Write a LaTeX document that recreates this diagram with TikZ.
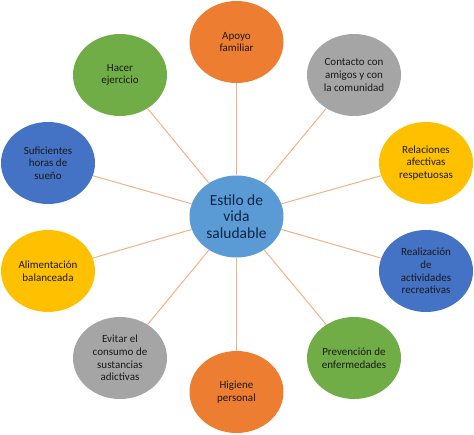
\documentclass[tikz,border=0pt]{standalone}
\usepackage{fontspec}
\setmainfont{Carlito}
\usetikzlibrary{shapes.geometric}
\definecolor{cOrange}{HTML}{ED7D31}
\definecolor{cGreen}{HTML}{70AD47}
\definecolor{cGray}{HTML}{A5A5A5}
\definecolor{cBlue}{HTML}{4472C4}
\definecolor{cYellow}{HTML}{FFC000}
\definecolor{cCenter}{HTML}{5B9BD5}
\definecolor{cLine}{HTML}{F4B183}
\definecolor{cCtext}{HTML}{0F2444}
\definecolor{cStext}{HTML}{1A1A1A}
\tikzset{
  sat/.style={ellipse, minimum width=94pt, minimum height=82pt, inner sep=0pt,
    align=center, text=cStext, font=\fontsize{11}{12.6}\selectfont, draw=none},
  hub/.style={ellipse, minimum width=94pt, minimum height=82pt, inner sep=0pt,
    align=center, text=cCtext, font=\fontsize{15.5}{16.8}\selectfont, fill=cCenter},
  spoke/.style={draw=cLine, line width=1pt},
}
\begin{document}
\begin{tikzpicture}[x=1pt,y=-1pt]
\useasboundingbox (0,0) rectangle (474,434);
\node[hub] (c) at (236.5,216.5) {Estilo de\\vida\\saludable};
\node[sat, fill=cOrange] (s1) at (236.5,42) {Apoyo\\familiar};
\node[sat, fill=cGray] (s2) at (354,75) {Contacto con\\amigos y con\\la comunidad};
\node[sat, fill=cYellow] (s3) at (426,163) {Relaciones\\afectivas\\respetuosas};
\node[sat, fill=cBlue] (s4) at (426,271) {Realización\\de\\actividades\\recreativas};
\node[sat, fill=cGreen] (s5) at (354,358) {Prevención de\\enfermedades};
\node[sat, fill=cOrange] (s6) at (236.5,392) {Higiene\\personal};
\node[sat, fill=cGray] (s7) at (120,358) {Evitar el\\consumo de\\sustancias\\adictivas};
\node[sat, fill=cYellow] (s8) at (48,271) {Alimentación\\balanceada};
\node[sat, fill=cBlue] (s9) at (48,163) {Suficientes\\horas de\\sueño};
\node[sat, fill=cGreen] (s10) at (120,75) {Hacer\\ejercicio};
\foreach \s in {s1,s2,s3,s4,s5,s6,s7,s8,s9,s10}
  \draw[spoke] (c) -- (\s);
\end{tikzpicture}
\end{document}
